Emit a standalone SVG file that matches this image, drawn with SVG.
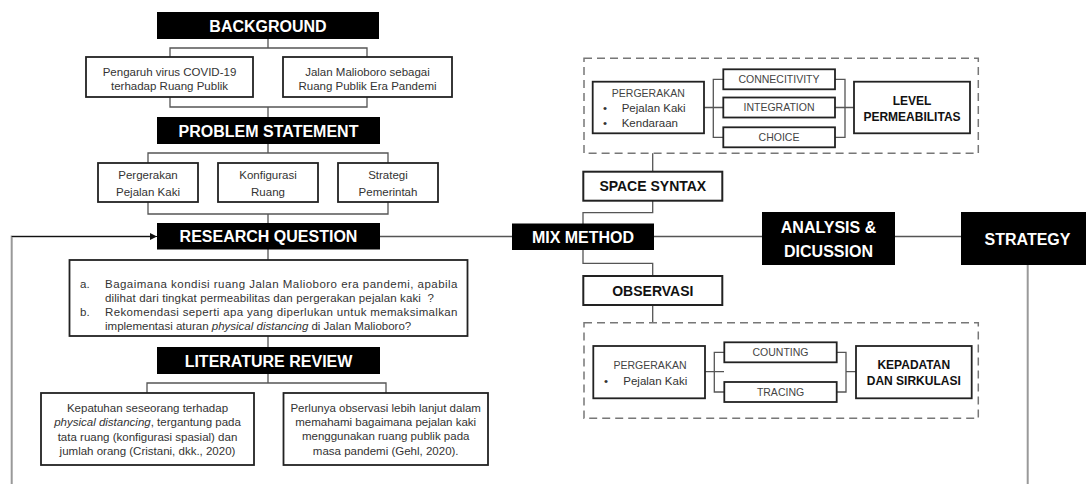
<svg xmlns="http://www.w3.org/2000/svg" width="1086" height="484" viewBox="0 0 1086 484">
<style>
.hd{fill:#000}
.hdt{fill:#fff;font-family:"Liberation Sans",Arial,sans-serif;font-weight:bold;font-size:16px;text-anchor:middle}
.box{fill:#fff;stroke:#222;stroke-width:1.8}
.wb{fill:#fff;stroke:#222;stroke-width:2}
.t{font-family:"Liberation Sans",Arial,sans-serif;font-size:11.5px;fill:#333}
.tc{text-anchor:middle}
.bt{font-family:"Liberation Sans",Arial,sans-serif;font-weight:bold;fill:#111;text-anchor:middle}
.cap{font-family:"Liberation Sans",Arial,sans-serif;font-size:10.5px;fill:#444;text-anchor:middle}
.dash{fill:none;stroke:#777;stroke-width:1.5;stroke-dasharray:8 5}
.ln{fill:none;stroke:#555;stroke-width:1.3}
.gl{fill:none;stroke:#999;stroke-width:2}
</style>
<defs>
<marker id="arr" viewBox="0 0 10 10" refX="10" refY="5" markerWidth="7" markerHeight="7" orient="auto" markerUnits="userSpaceOnUse">
<path d="M0,0 L10,5 L0,10 z" fill="#111"/>
</marker>
</defs>

<g id="connectors">
<path class="ln" d="M268,39 V48 M170,57 V48 H367 V57 M170,97 V107 H367 V97 M268,107 V117"/>
<path class="ln" d="M268,144 V153 M148,163 V153 H388 V163 M148,202 V214 H388 V202 M268,214 V223"/>
<path class="ln" d="M268,249 V260 M268,336 V347"/>
<path class="ln" d="M268,374 V383 M147,393 V383 H386 V393"/>
<path class="gl" d="M11.7,484 V236.5 H150"/>
<path d="M11.7,236.5 H157" fill="none" stroke="#111" stroke-width="1.2" marker-end="url(#arr)"/>
<path class="ln" d="M380,236.5 H512 M654,236.5 H762 M895,236.5 H961"/>
<path class="gl" d="M1027.7,265 V484"/>
<path class="ln" d="M583,224 V212.7 H652.7 V200 M583,249 V263.3 H652.7 V276"/>
<path class="ln" d="M652.7,153.3 V171.7 M652.7,305 V322.7"/>
<path class="ln" d="M704,107.5 H723 M723,79.3 H713.3 V137.3 H723 M835,79.3 H845 V137.3 H835 M835,107.5 H854"/>
<path class="ln" d="M705,371.7 H724 M724,352.3 H714.3 V392 H724 M836.7,352.3 H846 V392 H836.7 M846,371.7 H856"/>
</g>

<g id="background">
<rect class="hd" x="157" y="12" width="222" height="27"/>
<text class="hdt" x="268" y="31.5">BACKGROUND</text>
</g>
<g id="bg-covid">
<rect class="box" x="86" y="57" width="167" height="40"/>
<text class="t tc" x="169.5" y="75.5">Pengaruh virus COVID-19</text>
<text class="t tc" x="169.5" y="90">terhadap Ruang Publik</text>
</g>
<g id="bg-malioboro">
<rect class="box" x="283" y="57" width="169" height="40"/>
<text class="t tc" x="367.5" y="75.5">Jalan Malioboro sebagai</text>
<text class="t tc" x="367.5" y="90">Ruang Publik Era Pandemi</text>
</g>

<g id="problem-statement">
<rect class="hd" x="157" y="117" width="223" height="27"/>
<text class="hdt" x="268.5" y="136.5">PROBLEM STATEMENT</text>
</g>
<g id="ps-pergerakan">
<rect class="box" x="98" y="163" width="100" height="39"/>
<text class="t tc" x="148" y="179" font-size="12.5">Pergerakan</text>
<text class="t tc" x="148" y="196" font-size="12.5">Pejalan Kaki</text>
</g>
<g id="ps-konfigurasi">
<rect class="box" x="218" y="163" width="100" height="39"/>
<text class="t tc" x="268" y="179" font-size="12.5">Konfigurasi</text>
<text class="t tc" x="268" y="196" font-size="12.5">Ruang</text>
</g>
<g id="ps-strategi">
<rect class="box" x="338" y="163" width="100" height="39"/>
<text class="t tc" x="388" y="179" font-size="12.5">Strategi</text>
<text class="t tc" x="388" y="196" font-size="12.5">Pemerintah</text>
</g>

<g id="research-question">
<rect class="hd" x="157" y="223" width="223" height="26.5"/>
<text class="hdt" x="268.5" y="242">RESEARCH QUESTION</text>
</g>
<g id="rq-text">
<rect class="box" x="69.5" y="260" width="398" height="76"/>
<text class="t" x="80" y="287.5">a.</text>
<text class="t" x="105" y="287.5" textLength="352.5" lengthAdjust="spacing">Bagaimana kondisi ruang Jalan Malioboro era pandemi, apabila</text>
<text class="t" x="105" y="301.5" xml:space="preserve" textLength="329" lengthAdjust="spacing">dilihat dari tingkat permeabilitas dan pergerakan pejalan kaki  ?</text>
<text class="t" x="80" y="316">b.</text>
<text class="t" x="105" y="316" textLength="352.5" lengthAdjust="spacing">Rekomendasi seperti apa yang diperlukan untuk memaksimalkan</text>
<text class="t" x="105" y="330">implementasi aturan <tspan font-style="italic">physical distancing</tspan> di Jalan Malioboro?</text>
</g>

<g id="literature-review">
<rect class="hd" x="157" y="347" width="223" height="27"/>
<text class="hdt" x="268.5" y="366.5">LITERATURE REVIEW</text>
</g>
<g id="lr-cristani">
<rect class="box" x="41" y="393" width="213" height="72"/>
<text class="t tc" x="147.5" y="412">Kepatuhan seseorang terhadap</text>
<text class="t tc" x="147.5" y="426"><tspan font-style="italic">physical distancing</tspan>, tergantung pada</text>
<text class="t tc" x="147.5" y="440.5">tata ruang (konfigurasi spasial) dan</text>
<text class="t tc" x="147.5" y="454.5">jumlah orang (Cristani, dkk., 2020)</text>
</g>
<g id="lr-gehl">
<rect class="box" x="283.5" y="393" width="204.5" height="72"/>
<text class="t tc" x="385.7" y="411.5">Perlunya observasi lebih lanjut dalam</text>
<text class="t tc" x="385.7" y="425.5">memahami bagaimana pejalan kaki</text>
<text class="t tc" x="385.7" y="440">menggunakan ruang publik pada</text>
<text class="t tc" x="385.7" y="454.5">masa pandemi (Gehl, 2020).</text>
</g>

<g id="mix-method">
<rect class="hd" x="512" y="223.5" width="142" height="26.5"/>
<text class="hdt" x="583" y="242.5">MIX METHOD</text>
</g>
<g id="analysis">
<rect class="hd" x="762" y="212" width="133" height="53"/>
<text class="hdt" x="828.5" y="233">ANALYSIS &amp;</text>
<text class="hdt" x="828.5" y="257">DICUSSION</text>
</g>
<g id="strategy">
<rect class="hd" x="961" y="212" width="133" height="53"/>
<text class="hdt" x="1027.5" y="244.5">STRATEGY</text>
</g>

<g id="space-syntax-group">
<rect class="dash" x="584" y="58.3" width="394.3" height="95"/>
</g>
<g id="space-syntax">
<rect class="wb" x="583.3" y="171.7" width="139" height="29"/>
<text class="bt" x="652.8" y="191" font-size="14">SPACE SYNTAX</text>
</g>
<g id="ss-pergerakan">
<rect class="box" x="592.7" y="81.7" width="111.3" height="51.6"/>
<text class="cap" x="648.3" y="96.5">PERGERAKAN</text>
<text class="t" x="603" y="112" font-size="11">•</text>
<text class="t" x="621.7" y="112" font-size="11">Pejalan Kaki</text>
<text class="t" x="603" y="126.5" font-size="11">•</text>
<text class="t" x="621.7" y="126.5" font-size="11">Kendaraan</text>
</g>
<g id="connecitivity">
<rect class="box" x="723.3" y="69.3" width="111.7" height="20"/>
<text class="cap" x="779" y="83">CONNECITIVITY</text>
</g>
<g id="integration">
<rect class="box" x="723.3" y="97.5" width="111.7" height="20"/>
<text class="cap" x="779" y="111.3">INTEGRATION</text>
</g>
<g id="choice">
<rect class="box" x="723.3" y="127.3" width="111.7" height="20"/>
<text class="cap" x="779" y="141">CHOICE</text>
</g>
<g id="level-permeabilitas">
<rect class="box" x="854" y="81.7" width="116" height="51.6"/>
<text class="bt" x="912" y="104.5" font-size="12">LEVEL</text>
<text class="bt" x="912" y="120.5" font-size="12">PERMEABILITAS</text>
</g>

<g id="observasi">
<rect class="wb" x="583.3" y="276" width="139" height="29"/>
<text class="bt" x="652.8" y="295.5" font-size="14">OBSERVASI</text>
</g>
<g id="observasi-group">
<rect class="dash" x="584" y="322.7" width="394.3" height="95.6"/>
</g>
<g id="obs-pergerakan">
<rect class="box" x="593.3" y="346" width="111.7" height="52.3"/>
<text class="cap" x="650" y="369">PERGERAKAN</text>
<text class="t" x="604" y="384.5" font-size="11">•</text>
<text class="t" x="623.3" y="384.5" font-size="11">Pejalan Kaki</text>
</g>
<g id="counting">
<rect class="box" x="724.3" y="342.3" width="112.4" height="20"/>
<text class="cap" x="780.5" y="356">COUNTING</text>
</g>
<g id="tracing">
<rect class="box" x="724.3" y="382" width="112.4" height="20"/>
<text class="cap" x="780.5" y="395.8">TRACING</text>
</g>
<g id="kepadatan">
<rect class="box" x="856" y="346" width="115.7" height="52.3"/>
<text class="bt" x="913.8" y="368.5" font-size="12">KEPADATAN</text>
<text class="bt" x="913.8" y="385" font-size="12">DAN SIRKULASI</text>
</g>
</svg>
